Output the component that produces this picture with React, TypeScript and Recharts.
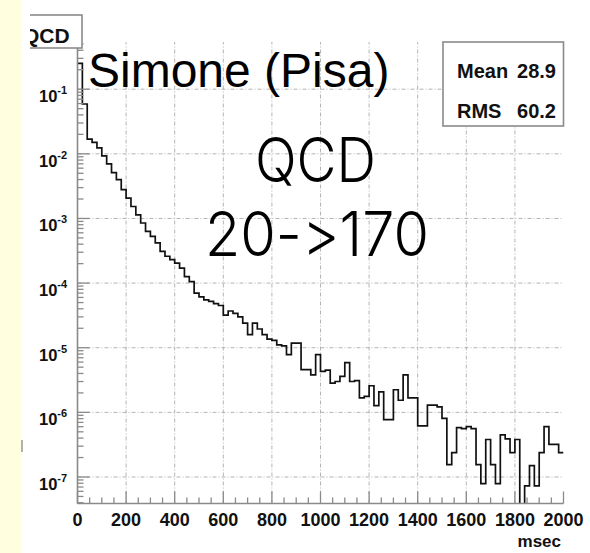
import React from 'react';
import { LineChart, Line, XAxis, YAxis, ReferenceLine } from 'recharts';

// ---- data ----
const BIN_MS = 20;
const X_MAX = 2000;
const Y_MIN = Math.pow(10, -7.41);
const Y_MAX = Math.pow(10, -0.27);
const FLOOR = 1e-9; // empty bins are drawn down to below the frame

const binValues: number[] = [
  0.25, 0.059, 0.0169, 0.015, 0.0124, 0.0093, 0.007, 0.0051, 0.004, 0.0028,
  0.00206, 0.00153, 0.00114, 0.00085, 0.00063, 0.00053, 0.00042, 0.00031, 0.00026, 0.00023,
  0.000204, 0.000171, 0.000126, 0.000105, 7.0e-5, 6.1e-5, 5.5e-5, 5.2e-5, 4.8e-5, 4.5e-5,
  3.2e-5, 3.7e-5, 3.4e-5, 3.0e-5, 2.4e-5, 1.59e-5, 2.4e-5, 1.95e-5, 1.59e-5, 1.36e-5,
  1.3e-5, 1.11e-5, 1.07e-5, 7.8e-6, 1.18e-5, 1.18e-5, 4.6e-6, 4.6e-6, 3.8e-6, 7.8e-6,
  4.3e-6, 4.5e-6, 2.84e-6, 3.0e-6, 3.6e-6, 5.9e-6, 3.0e-6, 3.1e-6, 1.67e-6, 1.77e-6,
  2.58e-6, 1.27e-6, 2.08e-6, 7.7e-7, 7.7e-7, 2.24e-6, 1.54e-6, 3.8e-6, 1.67e-6, 1.67e-6,
  6.2e-7, 6.2e-7, 1.29e-6, 1.29e-6, 1.22e-6, 8.1e-7, 1.55e-7, 2.38e-7, 5.8e-7, 5.6e-7,
  6.0e-7, 5.6e-7, 1.55e-7, 7.9e-8, 3.8e-7, 1.55e-7, 7.9e-8, 4.5e-7, 3.9e-7, 2.38e-7,
  3.8e-7, 0, 7.3e-8, 1.5e-7, 7.3e-8, 2.38e-7, 6.0e-7, 3.2e-7, 3.2e-7, 2.38e-7,
];

const xMajorTicks = [0, 200, 400, 600, 800, 1000, 1200, 1400, 1600, 1800, 2000];
const xMinorStep = 50;
const yDecades = [-7, -6, -5, -4, -3, -2, -1];
const statsLabels = ['Mean', 'RMS'];
const statsValues = ['28.9', '60.2'];
const xAxisTitle = 'msec';
const histTitle = 'QCD';

// ---- derived tables ----
const data = binValues.map((v, i) => ({ x: i * BIN_MS, v: v > 0 ? v : FLOOR }));
data.push({ x: X_MAX, v: binValues[binValues.length - 1] || FLOOR });

const xTicks: number[] = [];
for (let t = 0; t <= X_MAX; t += xMinorStep) xTicks.push(t);

const yTicks: number[] = [];
for (let e = -8; e <= 0; e++) {
  for (let k = 1; k <= 9; k++) {
    const t = k * Math.pow(10, e);
    if (t >= Y_MIN && t <= Y_MAX) yTicks.push(t);
  }
}

const FRAME = '#8a8a8a';
const GRID = '#b4b4b4';
const FONT = '"Liberation Sans", Arial, Helvetica, sans-serif';
const LIGHT_FONT = 'Inter, "Liberation Sans", Arial, sans-serif';
const noLig: React.CSSProperties = { fontFeatureSettings: '"calt" 0, "liga" 0, "dlig" 0', fontVariantLigatures: 'none' };

const isMajorX = (v: number) => xMajorTicks.includes(v);
const isMajorY = (v: number) => {
  const l = Math.log10(v);
  return Math.abs(l - Math.round(l)) < 1e-6;
};

const BottomTick = (p: any) => {
  const { x, y, payload } = p;
  const v = payload.value;
  const major = isMajorX(v);
  return (
    <g>
      <line x1={x} y1={y} x2={x} y2={y - (major ? 12 : 6)} stroke={FRAME} strokeWidth={1.3} />
      {major && (
        <text x={x} y={y + 22.5} textAnchor="middle" fontFamily={FONT} fontWeight="bold" fontSize={18} fill="#111">
          {v}
        </text>
      )}
    </g>
  );
};

const TopTick = (p: any) => {
  const { x, y, payload } = p;
  const major = isMajorX(payload.value);
  return <line x1={x} y1={y} x2={x} y2={y + (major ? 12 : 6)} stroke={FRAME} strokeWidth={1.3} />;
};

const LeftTick = (p: any) => {
  const { x, y, payload } = p;
  const v = payload.value;
  const major = isMajorY(v);
  const e = Math.round(Math.log10(v));
  return (
    <g>
      <line x1={x} y1={y} x2={x + (major ? 12 : 6)} y2={y} stroke={FRAME} strokeWidth={1.3} />
      {major && yDecades.includes(e) && (
        <text x={x - 38.5} y={y + 13} textAnchor="start" fontFamily={FONT} fontWeight="bold" fontSize={16.5} fill="#111">
          10
          <tspan dy={-8} fontSize={11}>{`${e}`}</tspan>
        </text>
      )}
    </g>
  );
};

const RightTick = (p: any) => {
  const { x, y, payload } = p;
  const major = isMajorY(payload.value);
  return <line x1={x} y1={y} x2={x - (major ? 12 : 6)} y2={y} stroke={FRAME} strokeWidth={1.3} />;
};

export default function App() {
  return (
    <div style={{ position: 'absolute', left: 0, top: 0, width: 590, height: 553, background: '#fff', overflow: 'hidden' }}>
      <div style={{ position: 'absolute', left: 0, top: 0, width: 21, height: 553, background: '#FFFFE0' }} />
      <div style={{ position: 'absolute', left: 21, top: 440, width: 1.5, height: 12, background: '#b0b0b0' }} />
      <div style={{ position: 'absolute', left: 0, top: 0 }}>
        <LineChart width={590} height={553} data={data} margin={{ top: 42, right: 26.5, bottom: 0, left: 0 }}>
          <XAxis
            xAxisId="b"
            type="number"
            dataKey="x"
            domain={[0, X_MAX]}
            ticks={xTicks}
            interval={0}
            allowDataOverflow
            height={49.5}
            tickSize={0}
            tickMargin={0}
            tickLine={false}
            tick={(p: any) => <BottomTick {...p} />}
            axisLine={{ stroke: FRAME, strokeWidth: 1.6 }}
          />
          <XAxis
            xAxisId="t"
            orientation="top"
            type="number"
            dataKey="x"
            domain={[0, X_MAX]}
            ticks={xTicks}
            interval={0}
            allowDataOverflow
            height={0}
            tickSize={0}
            tickMargin={0}
            tickLine={false}
            tick={(p: any) => <TopTick {...p} />}
            axisLine={{ stroke: FRAME, strokeWidth: 1.6 }}
          />
          <YAxis
            yAxisId="l"
            type="number"
            scale="log"
            domain={[Y_MIN, Y_MAX]}
            ticks={yTicks}
            interval={0}
            allowDataOverflow
            width={77.5}
            tickSize={0}
            tickMargin={0}
            tickLine={false}
            tick={(p: any) => <LeftTick {...p} />}
            axisLine={{ stroke: FRAME, strokeWidth: 1.6 }}
          />
          <YAxis
            yAxisId="r"
            orientation="right"
            type="number"
            scale="log"
            domain={[Y_MIN, Y_MAX]}
            ticks={yTicks}
            interval={0}
            allowDataOverflow
            width={0}
            tickSize={0}
            tickMargin={0}
            tickLine={false}
            tick={(p: any) => <RightTick {...p} />}
            axisLine={{ stroke: FRAME, strokeWidth: 1.6 }}
          />
          {xMajorTicks.slice(1, -1).map((v) => (
            <ReferenceLine key={`gx${v}`} xAxisId="b" yAxisId="l" x={v} stroke={GRID} strokeWidth={1} strokeDasharray="4 2 1 2" />
          ))}
          {yDecades.map((e) => (
            <ReferenceLine key={`gy${e}`} xAxisId="b" yAxisId="l" y={Math.pow(10, e)} stroke={GRID} strokeWidth={1} strokeDasharray="4 2 1 2" />
          ))}
          <Line
            xAxisId="b"
            yAxisId="l"
            type="stepAfter"
            dataKey="v"
            stroke="#111"
            strokeWidth={1.7}
            dot={false}
            activeDot={false}
            isAnimationActive={false}
          />
        </LineChart>
      </div>
      <svg width={590} height={553} style={{ position: 'absolute', left: 0, top: 0, pointerEvents: 'none' }}>
        <defs>
          <clipPath id="qcdclip">
            <rect x={30} y={14} width={54} height={36} />
          </clipPath>
        </defs>
        {/* stats box */}
        <rect x={443} y={42} width={120.5} height={84} fill="#fff" stroke={FRAME} strokeWidth={1.6} />
        {statsLabels.map((lab, i) => (
          <g key={lab}>
            <text x={457} y={78 + i * 40} fontFamily={FONT} fontWeight="bold" fontSize={20} fill="#111">{lab}</text>
            <text x={556} y={78 + i * 40} textAnchor="end" fontFamily={FONT} fontWeight="bold" fontSize={20} fill="#111">{statsValues[i]}</text>
          </g>
        ))}
        {/* histogram title box (clipped on the left) */}
        <g clipPath="url(#qcdclip)">
          <rect x={22} y={15} width={60} height={33} fill="#fff" stroke={FRAME} strokeWidth={1.6} />
          <text x={23} y={43} fontFamily={FONT} fontWeight="bold" fontSize={21} fill="#111">{histTitle}</text>
        </g>
        {/* annotations */}
        <text x={88} y={87} fontFamily={FONT} fontSize={48} fill="#000">Simone (Pisa)</text>
        <text x={255} y={182} fontFamily={LIGHT_FONT} fontWeight={300} fontSize={62} textLength={121} lengthAdjust="spacingAndGlyphs" fill="#000" style={noLig}>QCD</text>
        <text x={205} y={256} fontFamily={LIGHT_FONT} fontWeight={300} fontSize={62} textLength={224} lengthAdjust="spacingAndGlyphs" fill="#000" style={noLig}>20-&gt;170</text>
        <text x={561} y={547} textAnchor="end" fontFamily={FONT} fontWeight="bold" fontSize={17} fill="#111">{xAxisTitle}</text>
      </svg>
    </div>
  );
}
